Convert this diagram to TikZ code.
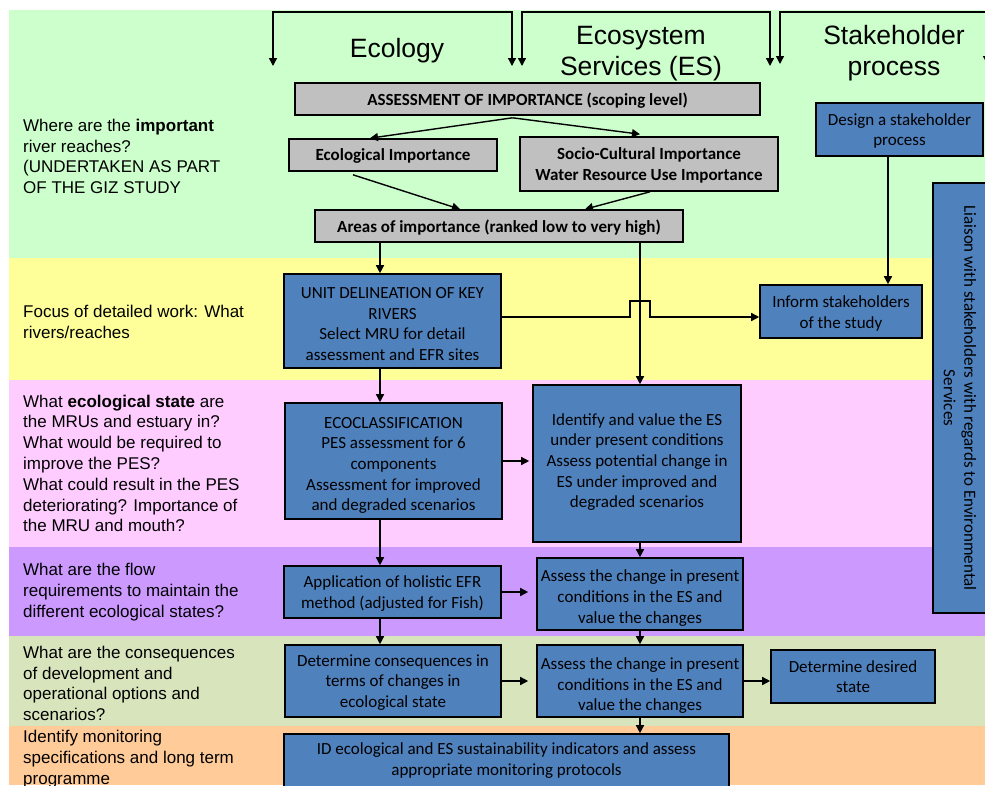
\documentclass[tikz,border=0pt]{standalone}
\usepackage{fontspec}
\setmainfont{Liberation Sans}
\newfontfamily\calibri{Carlito}
\usetikzlibrary{arrows.meta,calc}

\definecolor{rowgreen}{RGB}{204,255,204}
\definecolor{rowyellow}{RGB}{255,255,153}
\definecolor{rowpink}{RGB}{255,204,255}
\definecolor{rowpurple}{RGB}{204,153,255}
\definecolor{rowolive}{RGB}{216,228,188}
\definecolor{roworange}{RGB}{255,204,153}
\definecolor{boxgrey}{RGB}{192,192,192}
\definecolor{boxblue}{RGB}{79,129,189}

\tikzset{
  greybox/.style={draw=black, line width=1.6pt, fill=boxgrey, align=center, inner sep=2pt, text depth=0pt, font=\calibri\bfseries\fontsize{17}{20.7}\selectfont},
  bluebox/.style={draw=black, line width=1.6pt, fill=boxblue, align=center, inner sep=2pt, text depth=0pt, font=\calibri\fontsize{17}{20.7}\selectfont},
  arr/.style={line width=1.4pt, -{Triangle[length=8pt,width=8pt]}},
  twoarr/.style={line width=1.4pt, {Triangle[length=8pt,width=8pt]}-{Triangle[length=8pt,width=8pt]}},
  question/.style={anchor=west, align=left, inner sep=0pt, font=\fontsize{17}{20.8}\selectfont},
  heading/.style={align=center, inner sep=0pt, font=\fontsize{26.5}{31}\selectfont},
}
% strut that pushes box text down
\newcommand{\lowtext}[1]{\rule{0pt}{#1}}

\begin{document}
\begin{tikzpicture}[x=1pt,y=1pt,yscale=-1]
    \useasboundingbox (0,0) rectangle (985,785);

    %Shape: Rows
    \fill[rowgreen] (9,10) rectangle (985,258);
    \fill[rowyellow] (9,258) rectangle (985,380);
    \fill[rowpink] (9,380) rectangle (985,547);
    \fill[rowpurple] (9,547) rectangle (985,636);
    \fill[rowolive] (9,636) rectangle (985,726);
    \fill[roworange] (9,726) rectangle (985,785);

    % Text Node
    \node[question] (q1) at (23,156.5) {Where are the \textbf{important}\\river reaches?\\(UNDERTAKEN AS PART\\OF THE GIZ STUDY};
    % Text Node
    \node[question] (q2) at (23,322) {Focus of detailed work: What\\rivers/reaches};
    % Text Node
    \node[question] (q3) at (23,463.5) {What \textbf{ecological state} are\\the MRUs and estuary in?\\What would be required to\\improve the PES?\\What could result in the PES\\deteriorating? Importance of\\the MRU and mouth?};
    % Text Node
    \node[question] (q4) at (23,592) {What are the flow\\requirements to maintain the\\different ecological states?};
    % Text Node
    \node[question] (q5) at (23,683.5) {What are the consequences\\of development and\\operational options and\\scenarios?};
    % Text Node
    \node[question] (q6) at (23,759) {Identify monitoring\\specifications and long term\\programme};

    % Text Node
    \node[heading] (ecol) at (397,51) {Ecology};
    \node[heading] (esvc) at (641,54) {Ecosystem\\Services (ES)};
    \node[heading] (stkh) at (894,53) {Stakeholder\\process};

    %Straight Lines: columns
    \coordinate (ecolL) at (273,66);
    \coordinate (ecolR) at (512,66);
    \coordinate (esvcL) at (522,66);
    \coordinate (esvcR) at (770,66);
    \coordinate (stkhL) at (780,64);
    \coordinate (stkhR) at (987,64);
    \draw[twoarr] (ecolL) -- ++(0,-54) -| (ecolR);
    \draw[twoarr] (esvcL) -- ++(0,-54) -| (esvcR);
    \draw[twoarr] (stkhL) -- ++(0,-52) -| (stkhR);

    % Grey boxes
    \node[greybox, minimum width=465pt, minimum height=32pt] (assess) at (527.5,99) {ASSESSMENT OF IMPORTANCE (scoping level)};
    \node[greybox, minimum width=208pt, minimum height=32pt] (ecoimp) at (393,155) {Ecological Importance};
    \node[greybox, minimum width=258pt, minimum height=54pt] (socio) at (649,164) {Socio-Cultural Importance\\Water Resource Use Importance};
    \node[greybox, minimum width=368pt, minimum height=32pt] (areas) at (499,226) {Areas of importance (ranked low to very high)};

    % Blue boxes
    \node[bluebox, minimum width=167pt, minimum height=53pt] (design) at (899.5,129.5) {Design a stakeholder\\process};
    \node[bluebox, minimum width=217pt, minimum height=94pt] (unit) at (392.5,321) {\lowtext{17pt}UNIT DELINEATION OF KEY\\RIVERS\\Select MRU for detail\\assessment and EFR sites};
    \node[bluebox, minimum width=162pt, minimum height=53pt] (inform) at (841,311.5) {\lowtext{13pt}Inform stakeholders\\of the study};
    \node[bluebox, rotate=-90, minimum width=430pt, minimum height=54pt] (liaison) at (960,398) {Liaison with stakeholders with regards to Environmental\\Services};
    \node[bluebox, minimum width=217pt, minimum height=116pt] (eco) at (393.5,461) {\lowtext{17pt}ECOCLASSIFICATION\\PES assessment for 6\\components\\Assessment for improved\\and degraded scenarios};
    \node[bluebox, text depth=6pt, minimum width=208pt, minimum height=157pt] (identify) at (637,463.5) {Identify and value the ES\\under present conditions\\Assess potential change in\\ES under improved and\\degraded scenarios};
    \node[bluebox, minimum width=217pt, minimum height=52pt] (app) at (392.5,592) {Application of holistic EFR\\method (adjusted for Fish)};
    \node[bluebox, minimum width=206pt, minimum height=72pt] (assess1) at (640,594) {\lowtext{17pt}Assess the change in present\\conditions in the ES and\\value the changes};
    \node[bluebox, minimum width=216pt, minimum height=72pt] (detcons) at (393,681) {Determine consequences in\\terms of changes in\\ecological state};
    \node[bluebox, minimum width=206pt, minimum height=72pt] (assess2) at (640,681) {\lowtext{18pt}Assess the change in present\\conditions in the ES and\\value the changes};
    \node[bluebox, minimum width=164pt, minimum height=53pt] (desired) at (853,676.5) {Determine desired\\state};
    \node[bluebox, text depth=6pt, minimum width=445pt, minimum height=56pt] (monitor) at (506.5,762) {ID ecological and ES sustainability indicators and assess\\appropriate monitoring protocols};

    %Straight Lines
    \draw[arr] ($(assess.south)+(-15,2)$) -- ($(ecoimp.north)+(-23,0)$);
    \draw[arr] ($(assess.south)+(-15,2)$) -- ($(socio.north)+(-9,-2)$);
    \draw[arr] ($(ecoimp.south)+(-40,3)$) -- ($(areas.north)+(-39,0)$);
    \draw[arr] ($(socio.south)+(1,0)$) -- ($(areas.north)+(86,0)$);
    \coordinate (unitin) at ($(unit.north)+(-12.5,0)$);
    \draw[arr] (unitin |- areas.south) -- (unitin);

    \coordinate (hop) at (640,317);
    \draw[arr] (hop |- areas.south) -- (hop |- identify.north);
    \draw[arr] (unit.east |- hop) -- ($(hop)+(-10,0)$) -- ++(0,-16) -- ++(20,0) -- ++(0,16) -- (inform.west |- hop);
    \draw[arr] ($(design.south)+(-11.5,0)$) -- ($(inform.north)+(47,0)$);

    \draw[arr] ($(unit.south)+(-12.5,0)$) -- ($(eco.north)+(-13.5,0)$);
    \draw[arr, shorten >=3pt] (eco.east) -- (eco.east -| identify.west);
    \draw[arr] ($(eco.south)+(-13.5,0)$) -- ($(app.north)+(-12.5,0)$);
    \draw[arr] ($(identify.south)+(3,0)$) -- (assess1.north);
    \draw[arr, shorten >=8pt] (app.east) -- (app.east -| assess1.west);
    \draw[arr] ($(app.south)+(-12.5,0)$) -- ($(detcons.north)+(-13,0)$);
    \draw[arr] (assess1.south) -- (assess2.north);
    \draw[arr, shorten >=8pt] (detcons.east) -- (assess2.west);
    \draw[arr] (assess2.east) -- (assess2.east -| desired.west);
    \draw[arr] (assess2.south) -- (assess2.south |- monitor.north);

\end{tikzpicture}
\end{document}
